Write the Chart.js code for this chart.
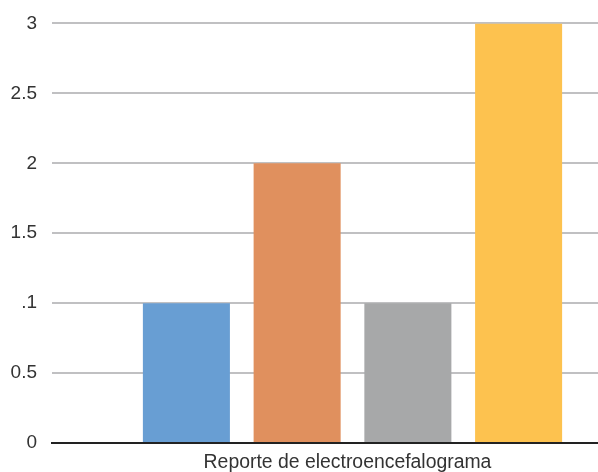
<!DOCTYPE html>
<html>
<head>
<meta charset="utf-8">
<script src="https://cdn.jsdelivr.net/npm/chart.js@4/dist/chart.umd.min.js"></script>
<style>
  html, body { margin: 0; padding: 0; background: #fff; }
  #wrap { width: 598px; height: 472px; overflow: hidden; position: relative; }
  #chart { position: absolute; left: 0; top: -3px; }
</style>
</head>
<body>
<div id="wrap">
  <canvas id="chart" width="653" height="490"></canvas>
</div>
<script>
// chart data
const categories = ["Reporte de electroencefalograma"];
const seriesNames = ["Serie 1", "Serie 2", "Serie 3", "Serie 4"];
const seriesValues = [[1], [2], [1], [3]];
const seriesColors = ["#689ed3", "#e0905e", "#a7a8a9", "#fdc24f"];
const tickLabels = ["0", "0.5", ".1", "1.5", "2", "2.5", "3"];

const datasets = seriesNames.map((name, i) => ({
  label: name,
  data: seriesValues[i],
  backgroundColor: seriesColors[i],
  borderWidth: 0,
  barPercentage: 0.786,
  categoryPercentage: 0.737,
}));

const ctx = document.getElementById("chart").getContext("2d");
new Chart(ctx, {
  type: "bar",
  data: { labels: categories, datasets: datasets },
  options: {
    responsive: false,
    animation: false,
    layout: { padding: { top: 18, left: 0, right: 0, bottom: 0 } },
    plugins: { legend: { display: false }, tooltip: { enabled: false } },
    scales: {
      x: {
        grid: { display: false, drawTicks: false },
        border: { display: true, color: "#222", width: 2 },
        ticks: {
          color: "#333",
          padding: 8,
          labelOffset: -5,
          font: { family: "Liberation Sans, Arial, sans-serif", size: 19.4 },
        },
        afterFit: (scale) => { scale.height = 44; },
      },
      y: {
        min: 0,
        max: 3,
        grid: { color: "#c0c0c2", lineWidth: 2, drawTicks: false },
        border: { display: false },
        ticks: {
          stepSize: 0.5,
          color: "#333",
          padding: 15,
          font: { family: "Liberation Sans, Arial, sans-serif", size: 19 },
          callback: (value, index) => tickLabels[index],
        },
        afterFit: (scale) => { scale.width = 52; },
      },
    },
  },
});
</script>
</body>
</html>
